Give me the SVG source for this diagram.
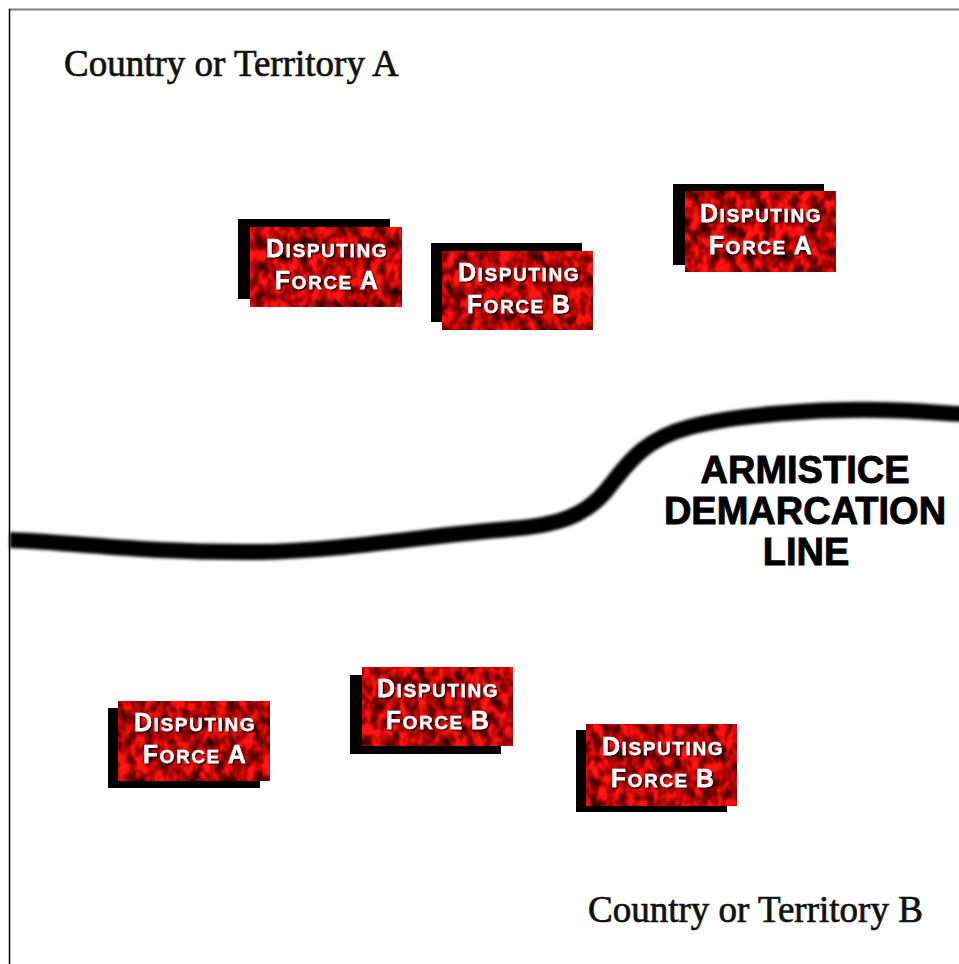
<svg xmlns="http://www.w3.org/2000/svg" width="959" height="964" viewBox="0 0 959 964">
<defs>
<filter id="tex" x="0" y="0" width="1" height="1" color-interpolation-filters="sRGB">
<feTurbulence type="fractalNoise" baseFrequency="0.11 0.08" numOctaves="2" seed="7" result="n"/>
<feColorMatrix in="n" type="matrix" values="1.8 0 0 0 -0.2  0.25 0 0 0 -0.1  0.2 0 0 0 -0.08  0 0 0 0 1" result="c"/>
<feComposite in="c" in2="SourceGraphic" operator="in"/>
</filter>
<filter id="blur" x="-5%" y="-20%" width="110%" height="140%">
<feGaussianBlur stdDeviation="1.7"/>
</filter>
<filter id="ts" x="-10%" y="-20%" width="120%" height="150%">
<feDropShadow dx="1.5" dy="1.5" stdDeviation="0.6" flood-color="#300000" flood-opacity="0.95"/>
</filter>
</defs>
<style>
.sh{fill:#000}
.rb{fill:#c00}
.lbl{font-family:"Liberation Sans",Arial,sans-serif;font-weight:bold;fill:#fff;stroke:#fff;stroke-width:0.3;text-anchor:middle;letter-spacing:1.6px;filter:url(#ts)}
.big{font-size:25px}
.sm{font-size:19px}
.cty{font-family:"Liberation Serif","Times New Roman",serif;font-size:37px;fill:#111;stroke:#111;stroke-width:0.7}
.arm{font-family:"Liberation Sans",Arial,sans-serif;font-weight:bold;font-size:38px;fill:#000;stroke:#000;stroke-width:0.9;text-anchor:middle}
</style>
<rect width="959" height="964" fill="#fff"/>
<line x1="9" y1="9.5" x2="959" y2="9.5" stroke="#808080" stroke-width="2"/>
<line x1="9.5" y1="9" x2="9.5" y2="964" stroke="#000" stroke-width="1.5"/>

<g id="connectors">
<path d="M10,540 C60,541 140,553 260,552 C340,551 430,535 510,529 C560,525 585,515 605,492 C625,468 640,440 690,427 C740,414 820,409 880,410 C920,410 945,414 962,414" fill="none" stroke="#000" stroke-width="16" stroke-linecap="butt" filter="url(#blur)"/>
</g>

<text id="country-a" class="cty" x="64" y="76">Country or Territory A</text>
<text id="country-b" class="cty" x="588" y="922">Country or Territory B</text>

<g id="armistice-label">
<text class="arm" x="805" y="483">ARMISTICE</text>
<text class="arm" x="805" y="524">DEMARCATION</text>
<text class="arm" x="806" y="565">LINE</text>
</g>

<g id="box1">
<rect class="sh" x="238" y="219" width="152" height="80"/>
<rect class="rb" x="250" y="227" width="152" height="80" filter="url(#tex)"/>
<text class="lbl" x="327" y="257"><tspan class="big">D</tspan><tspan class="sm">ISPUTING</tspan></text>
<text class="lbl" x="327" y="289"><tspan class="big">F</tspan><tspan class="sm">ORCE </tspan><tspan class="big">A</tspan></text>
</g>

<g id="box2">
<rect class="sh" x="431" y="243" width="151" height="79"/>
<rect class="rb" x="442" y="251" width="151" height="79" filter="url(#tex)"/>
<text class="lbl" x="519" y="281"><tspan class="big">D</tspan><tspan class="sm">ISPUTING</tspan></text>
<text class="lbl" x="519" y="313"><tspan class="big">F</tspan><tspan class="sm">ORCE </tspan><tspan class="big">B</tspan></text>
</g>

<g id="box3">
<rect class="sh" x="673" y="184" width="151" height="81"/>
<rect class="rb" x="685" y="191" width="151" height="81" filter="url(#tex)"/>
<text class="lbl" x="761" y="222"><tspan class="big">D</tspan><tspan class="sm">ISPUTING</tspan></text>
<text class="lbl" x="761" y="254"><tspan class="big">F</tspan><tspan class="sm">ORCE </tspan><tspan class="big">A</tspan></text>
</g>

<g id="box4">
<rect class="sh" x="108" y="708" width="152" height="80"/>
<rect class="rb" x="118" y="701" width="152" height="80" filter="url(#tex)"/>
<text class="lbl" x="195" y="731"><tspan class="big">D</tspan><tspan class="sm">ISPUTING</tspan></text>
<text class="lbl" x="195" y="763"><tspan class="big">F</tspan><tspan class="sm">ORCE </tspan><tspan class="big">A</tspan></text>
</g>

<g id="box5">
<rect class="sh" x="350" y="675" width="151" height="79"/>
<rect class="rb" x="362" y="667" width="151" height="79" filter="url(#tex)"/>
<text class="lbl" x="438" y="697"><tspan class="big">D</tspan><tspan class="sm">ISPUTING</tspan></text>
<text class="lbl" x="438" y="729"><tspan class="big">F</tspan><tspan class="sm">ORCE </tspan><tspan class="big">B</tspan></text>
</g>

<g id="box6">
<rect class="sh" x="576" y="730" width="151" height="82"/>
<rect class="rb" x="586" y="724" width="151" height="82" filter="url(#tex)"/>
<text class="lbl" x="663" y="755"><tspan class="big">D</tspan><tspan class="sm">ISPUTING</tspan></text>
<text class="lbl" x="663" y="787"><tspan class="big">F</tspan><tspan class="sm">ORCE </tspan><tspan class="big">B</tspan></text>
</g>
</svg>
